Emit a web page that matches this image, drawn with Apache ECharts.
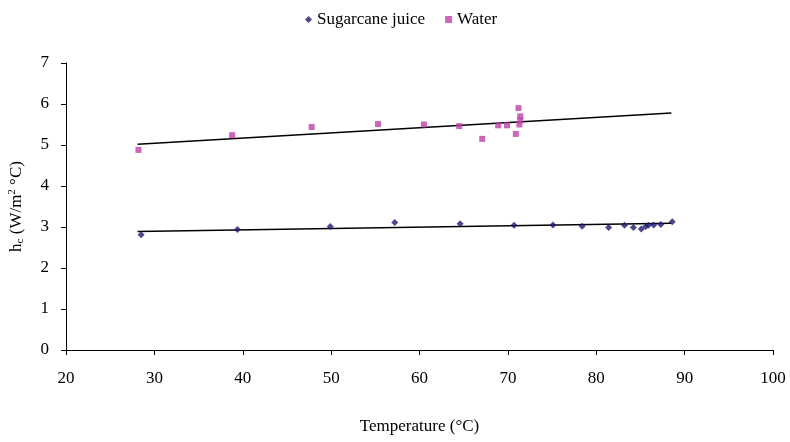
<!DOCTYPE html>
<html>
<head>
<meta charset="utf-8">
<script src="https://cdn.jsdelivr.net/npm/echarts@6/dist/echarts.min.js"></script>
<style>
  html, body { margin: 0; padding: 0; background: #fff; }
  #chart { width: 790px; height: 442px; }
</style>
</head>
<body>
<div id="chart"></div>
<script>
const juiceTemp = [28.5, 39.4, 49.9, 57.2, 64.6, 70.7, 75.1, 78.4, 81.4, 83.2, 84.2, 85.1, 85.6, 85.9, 86.5, 87.3, 88.6];
const juiceH    = [2.81, 2.94, 3.01, 3.11, 3.08, 3.04, 3.05, 3.02, 2.99, 3.04, 2.99, 2.95, 3.01, 3.04, 3.05, 3.06, 3.13];

const waterTemp = [28.2, 38.8, 47.8, 55.3, 60.5, 64.5, 67.1, 68.9, 69.9, 70.9, 71.2, 71.4, 71.4, 71.3];
const waterH    = [4.88, 5.24, 5.44, 5.51, 5.50, 5.46, 5.15, 5.48, 5.48, 5.27, 5.90, 5.70, 5.60, 5.50];

// trendline end points
const juiceFitT = [28.1, 88.5];
const juiceFitH = [2.89, 3.09];
const waterFitT = [28.1, 88.5];
const waterFitH = [5.02, 5.78];

const xTicks = [20, 30, 40, 50, 60, 70, 80, 90, 100];
const yTicks = [0, 1, 2, 3, 4, 5, 6, 7];

const FONT = '"Liberation Serif", "Times New Roman", serif';
const pairs = (xs, ys) => xs.map((x, i) => [x, ys[i]]);

const chart = echarts.init(document.getElementById('chart'));

const axisCommon = {
    axisLine: { show: true, lineStyle: { color: '#000', width: 1 } },
    axisTick: { show: true, length: 5, lineStyle: { color: '#000' } },
    splitLine: { show: false },
    axisLabel: { color: '#000', fontFamily: FONT, fontSize: 17 }
};

chart.setOption({
    animation: false,
    backgroundColor: '#fff',
    textStyle: { fontFamily: FONT },
    legend: {
        top: 6,
        left: 300,
        itemWidth: 7,
        itemHeight: 7,
        itemGap: 20,
        textStyle: { color: '#000', fontFamily: FONT, fontSize: 17 },
        data: ['Sugarcane juice', 'Water']
    },
    // outerBoundsMode none: keep the grid exactly where the reference puts it
    grid: { left: 66, right: 17, top: 63, bottom: 92, outerBoundsMode: 'none' },
    xAxis: {
        ...axisCommon,
        type: 'value',
        min: xTicks[0],
        max: xTicks[xTicks.length - 1],
        interval: 10,
        name: 'Temperature (°C)',
        nameLocation: 'middle',
        nameGap: 68,
        nameTextStyle: { color: '#000', fontFamily: FONT, fontSize: 17 },
        axisLabel: { ...axisCommon.axisLabel, margin: 20 }
    },
    yAxis: {
        ...axisCommon,
        type: 'value',
        min: yTicks[0],
        max: yTicks[yTicks.length - 1],
        interval: 1,
        name: '{t|h}{s|c}{t| (W/m}{p|2}{t| °C)}',
        nameLocation: 'middle',
        nameGap: 40,
        nameTextStyle: {
            color: '#000',
            rich: {
                t: { fontFamily: FONT, fontSize: 17, color: '#000' },
                s: { fontFamily: FONT, fontSize: 11, color: '#000', verticalAlign: 'bottom', padding: [8, 0, 0, 0] },
                p: { fontFamily: FONT, fontSize: 11, color: '#000', verticalAlign: 'top', padding: [0, 0, 8, 0] }
            }
        },
        axisLabel: { ...axisCommon.axisLabel, margin: 17 }
    },
    series: [
        {
            name: 'Sugarcane juice',
            type: 'scatter',
            symbol: 'diamond',
            symbolSize: 7,
            itemStyle: { color: '#1c1c6e' },
            data: pairs(juiceTemp, juiceH),
            z: 3
        },
        {
            name: 'Water',
            type: 'scatter',
            symbol: 'rect',
            symbolSize: 6,
            itemStyle: { color: '#c040a8' },
            data: pairs(waterTemp, waterH),
            z: 3
        },
        {
            name: 'juiceFit',
            type: 'line',
            symbol: 'none',
            silent: true,
            lineStyle: { color: '#000', width: 1.4 },
            data: pairs(juiceFitT, juiceFitH),
            z: 2
        },
        {
            name: 'waterFit',
            type: 'line',
            symbol: 'none',
            silent: true,
            lineStyle: { color: '#000', width: 1.4 },
            data: pairs(waterFitT, waterFitH),
            z: 2
        }
    ]
});
</script>
</body>
</html>
